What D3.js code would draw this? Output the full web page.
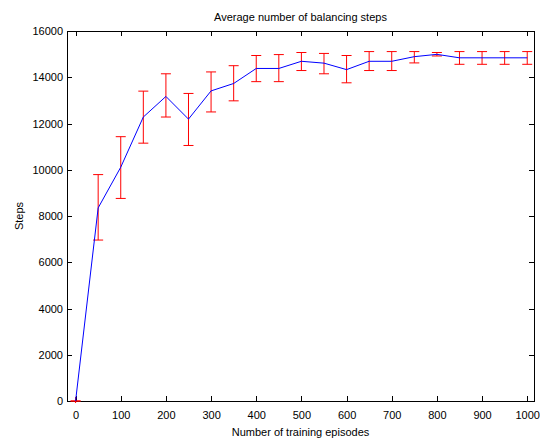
<!DOCTYPE html>
<html>
<head>
<meta charset="utf-8">
<script src="https://cdn.jsdelivr.net/npm/d3@7"></script>
<style>
  body { margin: 0; background: #fff; }
  text { font-family: "Liberation Sans", Arial, sans-serif; }
</style>
</head>
<body>
<div class="chart"></div>
<script>
// episodes and mean steps, with error bar ends
const episodes = [0, 50, 100, 150, 200, 250, 300, 350, 400, 450, 500,
                  550, 600, 650, 700, 750, 800, 850, 900, 950, 1000]
const steps = [0, 8350, 10110, 12280, 13170, 12190, 13410, 13730, 14380, 14380, 14690,
               14610, 14330, 14690, 14690, 14890, 14990, 14840, 14840, 14840, 14840]
const upper = [0, 9790, 11430, 13400, 14150, 13300, 14230, 14500, 14940, 14980, 15070,
               15030, 14940, 15110, 15110, 15110, 15070, 15110, 15110, 15110, 15110]
const lower = [0, 6960, 8760, 11150, 12280, 11050, 12500, 12980, 13810, 13810, 14290,
               14150, 13760, 14290, 14290, 14620, 14920, 14560, 14560, 14560, 14560]
const xTicks = [0, 100, 200, 300, 400, 500, 600, 700, 800, 900, 1000]
const yTicks = [0, 2000, 4000, 6000, 8000, 10000, 12000, 14000, 16000]

window.onload = () => {
    let W = 540, H = 441
    let m = {left: 67, right: 6, top: 31, bottom: 40}
    let w = W - m.left - m.right
    let h = H - m.top - m.bottom

    let svg = d3.select('.chart').append('svg')
        .attr('width', W)
        .attr('height', H)

    let x = d3.scaleLinear().domain([-19, 1015]).range([0, w])
    let y = d3.scaleLinear().domain([0, 16000]).range([h, 0])

    let g = svg.append('g').attr('transform', `translate(${m.left},${m.top})`)

    // box
    g.append('rect')
        .attr('x', 0).attr('y', 0)
        .attr('width', w).attr('height', h)
        .attr('fill', 'white')
        .attr('stroke', '#000')
        .attr('stroke-width', 1)
        .attr('shape-rendering', 'crispEdges')

    let styleAxis = (sel) => {
        sel.select('.domain').remove()
        sel.selectAll('line').attr('stroke', '#000').attr('shape-rendering', 'crispEdges')
        sel.selectAll('text').style('font-size', '11px').attr('fill', '#000')
    }
    let fmt = d3.format('d')

    g.append('g').attr('transform', `translate(0,${h})`)
        .call(d3.axisBottom(x).tickValues(xTicks).tickFormat(fmt).tickSizeInner(-5).tickSizeOuter(0).tickPadding(10))
        .call(styleAxis)
    g.append('g')
        .call(d3.axisTop(x).tickValues(xTicks).tickSizeInner(-5).tickSizeOuter(0).tickFormat(''))
        .call(styleAxis)
    g.append('g')
        .call(d3.axisLeft(y).tickValues(yTicks).tickFormat(fmt).tickSizeInner(-5).tickSizeOuter(0).tickPadding(4))
        .call(styleAxis)
    g.append('g').attr('transform', `translate(${w},0)`)
        .call(d3.axisRight(y).tickValues(yTicks).tickSizeInner(-5).tickSizeOuter(0).tickFormat(''))
        .call(styleAxis)

    let pts = episodes.map((e, i) => ({e: e, s: steps[i], hi: upper[i], lo: lower[i]}))

    // error bars
    let cap = 5
    let eb = g.append('g').attr('stroke', '#ff0000').attr('stroke-width', 1).attr('fill', 'none')
    for (let p of pts) {
        let cx = x(p.e)
        eb.append('line').attr('x1', cx).attr('x2', cx).attr('y1', y(p.hi)).attr('y2', y(p.lo))
        eb.append('line').attr('x1', cx - cap).attr('x2', cx + cap).attr('y1', y(p.hi)).attr('y2', y(p.hi))
        eb.append('line').attr('x1', cx - cap).attr('x2', cx + cap).attr('y1', y(p.lo)).attr('y2', y(p.lo))
    }
    // small vertical stroke at the origin point
    eb.append('line').attr('x1', x(0)).attr('x2', x(0)).attr('y1', y(0) - 4).attr('y2', y(0) + 2)

    // mean line
    let line = d3.line().x(d => x(d.e)).y(d => y(d.s))
    g.append('path')
        .datum(pts)
        .attr('d', line)
        .attr('fill', 'none')
        .attr('stroke', '#0000ff')
        .attr('stroke-width', 1)

    // labels
    svg.append('text')
        .attr('x', m.left + w / 2).attr('y', 21)
        .attr('text-anchor', 'middle')
        .style('font-size', '11px')
        .text('Average number of balancing steps')
    svg.append('text')
        .attr('x', m.left + w / 2).attr('y', 436)
        .attr('text-anchor', 'middle')
        .style('font-size', '11px')
        .text('Number of training episodes')
    svg.append('text')
        .attr('transform', `translate(23,${m.top + h / 2}) rotate(-90)`)
        .attr('text-anchor', 'middle')
        .style('font-size', '11px')
        .text('Steps')
}
</script>
</body>
</html>
